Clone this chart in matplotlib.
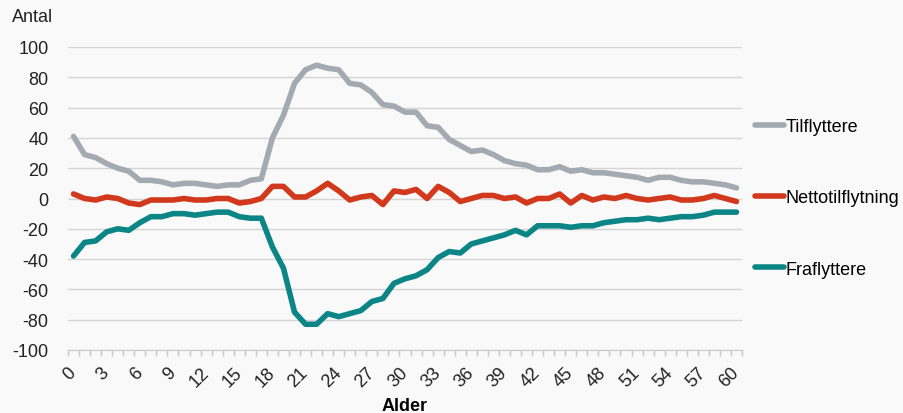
"""
Flytninger fordelt paa alder.
"""

import numpy as np
import matplotlib
matplotlib.use("Agg")
import matplotlib.pyplot as plt
from matplotlib.ticker import FixedLocator


# ==========================================================
# Data
# ==========================================================

ages = list(range(0, 61))

tilflyttere = [
    41, 29, 27, 23, 20, 18, 12, 12, 11, 9,
    10, 10, 9, 8, 9, 9, 12, 13, 40, 55,
    76, 85, 88, 86, 85, 76, 75, 70, 62, 61,
    57, 57, 48, 47, 39, 35, 31, 32, 29, 25,
    23, 22, 19, 19, 21, 18, 19, 17, 17, 16,
    15, 14, 12, 14, 14, 12, 11, 11, 10, 9,
    7,
]

nettotilflytning = [
    3, 0, -1, 1, 0, -3, -4, -1, -1, -1,
    0, -1, -1, 0, 0, -3, -2, 0, 8, 8,
    1, 1, 5, 10, 5, -1, 1, 2, -4, 5,
    4, 6, 0, 8, 4, -2, 0, 2, 2, 0,
    1, -3, 0, 0, 3, -3, 2, -1, 1, 0,
    2, 0, -1, 0, 1, -1, -1, 0, 2, 0,
    -2,
]

fraflyttere = [
    -38, -29, -28, -22, -20, -21, -16, -12, -12, -10,
    -10, -11, -10, -9, -9, -12, -13, -13, -32, -46,
    -75, -83, -83, -76, -78, -76, -74, -68, -66, -56,
    -53, -51, -47, -39, -35, -36, -30, -28, -26, -24,
    -21, -24, -18, -18, -18, -19, -18, -18, -16, -15,
    -14, -14, -13, -14, -13, -12, -12, -11, -9, -9,
    -9,
]

series = [
    ("Tilflyttere", tilflyttere, "#a3aab1"),
    ("Nettotilflytning", nettotilflytning, "#d2381b"),
    ("Fraflyttere", fraflyttere, "#0b8585"),
]

y_ticks = list(range(-100, 101, 20))


# ==========================================================
# Plot
# ==========================================================

plt.rcParams["font.family"] = ["Liberation Sans", "DejaVu Sans"]

bg = "#f9f9f9"
fs = 13

fig = plt.figure(figsize=(9.04, 4.14), dpi=100, facecolor=bg)
ax = fig.add_axes([68 / 904, 1 - 351 / 414, (742 - 68) / 904, (351 - 48) / 414])
ax.set_facecolor(bg)

for name, values, color in series:
    ax.plot(
        ages,
        values,
        color=color,
        linewidth=4.0,
        solid_joinstyle="round",
        solid_capstyle="round",
        label=name
    )

ax.set_xlim(-0.5, 60.5)
ax.set_ylim(-100, 100)

ax.set_yticks(y_ticks)
ax.set_yticklabels([str(v) for v in y_ticks])
ax.grid(axis="y", color="#d4d4d4", linewidth=1.0)
ax.set_axisbelow(True)

ax.set_xticks(ages[::3])
ax.set_xticklabels([str(a) for a in ages[::3]], rotation=45,
                   ha="right", va="center", rotation_mode="anchor")
ax.xaxis.set_minor_locator(FixedLocator(np.arange(-0.5, 61, 1)))

ax.tick_params(axis="y", length=0, pad=14, labelsize=fs, colors="#222222")
ax.tick_params(axis="x", which="major", length=0, pad=14, labelsize=fs,
               colors="#222222")
ax.tick_params(axis="x", which="minor", length=4, width=1, color="#c8c8c8")

for side in ["top", "right", "left"]:
    ax.spines[side].set_visible(False)
ax.spines["bottom"].set_color("#c8c8c8")

ax.set_xlabel("Alder", fontsize=fs, weight="bold", labelpad=5)

fig.text(12 / 904, 1 - 18 / 414, "Antal", fontsize=fs, va="center",
         color="#222222")

ax.legend(
    loc="center left",
    bbox_to_anchor=(755 / 904, 1 - 199 / 414),
    bbox_transform=fig.transFigure,
    frameon=False,
    fontsize=fs,
    handlelength=1.6,
    handletextpad=0.1,
    labelspacing=3.0,
    borderpad=0,
    borderaxespad=0
)

fig.savefig("out.png", dpi=100, facecolor=bg)
